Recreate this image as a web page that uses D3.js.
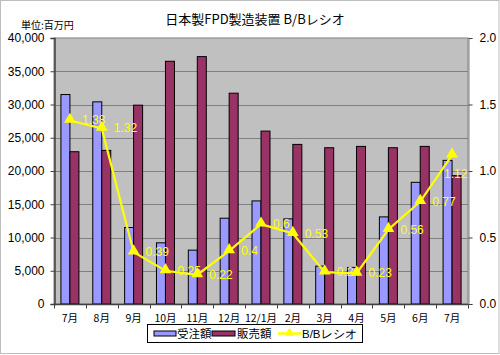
<!DOCTYPE html>
<html><head><meta charset="utf-8">
<script src="https://cdn.jsdelivr.net/npm/d3@7"></script>
<style>body{margin:0;background:#fff}svg{display:block}</style>
</head><body>
<script>
const categories = ["7月","8月","9月","10月","11月","12月","12/1月","2月","3月","4月","5月","6月","7月"];
const orders = [31500,30400,11500,9200,8100,12900,15500,12800,5700,5500,13100,18300,21600];
const sales = [22900,23100,29900,36500,37200,31700,26000,24000,23500,23700,23500,23700,19300];
const ratio = [1.38,1.32,0.39,0.25,0.22,0.4,0.6,0.53,0.24,0.23,0.56,0.77,1.12];
const ratioLabels = ["1.38","1.32","0.39","0.25","0.22","0.4","0.6","0.53","0.24","0.23","0.56","0.77","1.12"];
const leftTicks = [0,5000,10000,15000,20000,25000,30000,35000,40000];
const rightTicks = [0,0.5,1.0,1.5,2.0];
const seriesNames = ["受注額","販売額","B/Bレシオ"];
const title = "日本製FPD製造装置 B/Bレシオ";
const unitLabel = "単位:百万円";

const W=500,H=355;
const L=54,R=468,T=38,B=304;
const jp = "'Noto Sans CJK JP','Noto Sans',sans-serif";
const num = "'Liberation Sans',Arial,sans-serif";

const svg=d3.select("body").append("svg").attr("width",W).attr("height",H);
svg.append("rect").attr("x",0.5).attr("y",0.5).attr("width",W-1.5).attr("height",H-2).attr("fill","#fff").attr("stroke","#bdbdbd");

const idx=d3.range(categories.length);
const x=d3.scaleBand().domain(idx).range([L,R]).paddingInner(0.435).paddingOuter(0.2175);
const xs=d3.scaleBand().domain([0,1]).range([0,x.bandwidth()]);
const y=d3.scaleLinear().domain([0,40000]).range([B,T]);
const y2=d3.scaleLinear().domain([0,2]).range([B,T]);
const step=(R-L)/categories.length;
const cx=i=>L+step*(i+0.5);

// plot area
svg.append("rect").attr("x",L).attr("y",T).attr("width",R-L).attr("height",B-T).attr("fill","#c0c0c0").attr("stroke","#808080");
// gridlines
svg.append("g").selectAll("line").data(leftTicks.filter(d=>d>0&&d<40000)).join("line")
 .attr("x1",L).attr("x2",R).attr("y1",d=>Math.round(y(d))+0.5).attr("y2",d=>Math.round(y(d))+0.5)
 .attr("stroke","#808080");

// left axis
const gl=svg.append("g").attr("transform",`translate(${L+0.5},0)`)
 .call(d3.axisLeft(y).tickValues(leftTicks).tickFormat(d3.format(",")).tickSize(4).tickPadding(6));
gl.select(".domain").attr("stroke","#404040").attr("stroke-width",1.5);
gl.selectAll(".tick line").attr("stroke","#404040");
gl.selectAll("text").attr("font-family",num).attr("font-size",12).attr("fill","#000");

// right axis
const gr=svg.append("g").attr("transform",`translate(${R+0.5},0)`)
 .call(d3.axisRight(y2).tickValues(rightTicks).tickFormat(d3.format(".1f")).tickSize(4).tickPadding(7));
gr.select(".domain").attr("stroke","#808080");
gr.selectAll(".tick line").attr("stroke","#404040");
gr.selectAll("text").attr("font-family",num).attr("font-size",12).attr("fill","#000");

// bars
const bars=svg.append("g");
bars.selectAll(".o").data(orders).join("rect").attr("class","o")
 .attr("x",(d,i)=>x(i)+xs(0)).attr("width",xs.bandwidth())
 .attr("y",d=>y(d)).attr("height",d=>B-y(d))
 .attr("fill","#9999ff").attr("stroke","#000").attr("stroke-width",1);
bars.selectAll(".s").data(sales).join("rect").attr("class","s")
 .attr("x",(d,i)=>x(i)+xs(1)).attr("width",xs.bandwidth())
 .attr("y",d=>y(d)).attr("height",d=>B-y(d))
 .attr("fill","#993366").attr("stroke","#000").attr("stroke-width",1);

// bottom axis
const gb=svg.append("g").attr("transform",`translate(0,${B+0.5})`);
gb.append("line").attr("x1",L).attr("x2",R).attr("stroke","#404040").attr("stroke-width",1.5);
gb.selectAll(".tk").data(d3.range(categories.length+1)).join("line").attr("class","tk")
 .attr("x1",i=>Math.round(L+step*i)+0.5).attr("x2",i=>Math.round(L+step*i)+0.5).attr("y1",0).attr("y2",4).attr("stroke","#404040");
gb.selectAll("text").data(categories).join("text")
 .attr("x",(d,i)=>cx(i)).attr("y",17).attr("text-anchor","middle")
 .attr("font-family",jp).attr("font-size",10.5).attr("fill","#000").text(d=>d);

// ratio line
const line=d3.line().x((d,i)=>cx(i)).y(d=>y2(d));
svg.append("path").datum(ratio).attr("d",line).attr("fill","none").attr("stroke","#ffff00").attr("stroke-width",2.2);
svg.append("g").selectAll("path").data(ratio).join("path")
 .attr("transform",(d,i)=>`translate(${cx(i)},${y2(d)-1})`)
 .attr("d",d3.symbol().type(d3.symbolTriangle).size(60)).attr("fill","#ffff00");
const last=ratio.length-1;
svg.append("g").selectAll("text").data(ratio).join("text")
 .attr("x",(d,i)=>i===last?cx(i)-8:cx(i)+12).attr("y",(d,i)=>i===last?y2(d)+23:y2(d)+4)
 .attr("font-family",num).attr("font-size",12).attr("fill","#ffff00").text((d,i)=>ratioLabels[i]);

// title & unit
svg.append("text").attr("x",255).attr("y",24).attr("text-anchor","middle").attr("font-family",jp)
 .attr("font-size",13).attr("fill","#000").text(title);
svg.append("text").attr("x",21).attr("y",29).attr("font-family",jp)
 .attr("font-size",10).attr("fill","#000").text(unitLabel);

// legend
const lg=svg.append("g");
lg.append("rect").attr("x",147.5).attr("y",324.5).attr("width",215).attr("height",18).attr("fill","#fff").attr("stroke","#000");
const sw=[154,212,278];
lg.append("rect").attr("x",sw[0]).attr("y",331).attr("width",22).attr("height",5).attr("fill","#9999ff").attr("stroke","#000");
lg.append("rect").attr("x",sw[1]).attr("y",331).attr("width",23).attr("height",5).attr("fill","#993366").attr("stroke","#000");
lg.append("line").attr("x1",sw[2]).attr("x2",sw[2]+23).attr("y1",333.5).attr("y2",333.5).attr("stroke","#ffff00").attr("stroke-width",2.5);
lg.append("path").attr("transform",`translate(${sw[2]+11.5},333)`).attr("d",d3.symbol().type(d3.symbolTriangle).size(40)).attr("fill","#ffff00");
const tx=[177,237,302];
lg.selectAll("text").data(seriesNames).join("text").attr("x",(d,i)=>tx[i]).attr("y",338)
 .attr("font-family",(d,i)=>i===2?num:jp).attr("font-size",11.5).attr("fill","#000").text(d=>d);
</script>
</body></html>
